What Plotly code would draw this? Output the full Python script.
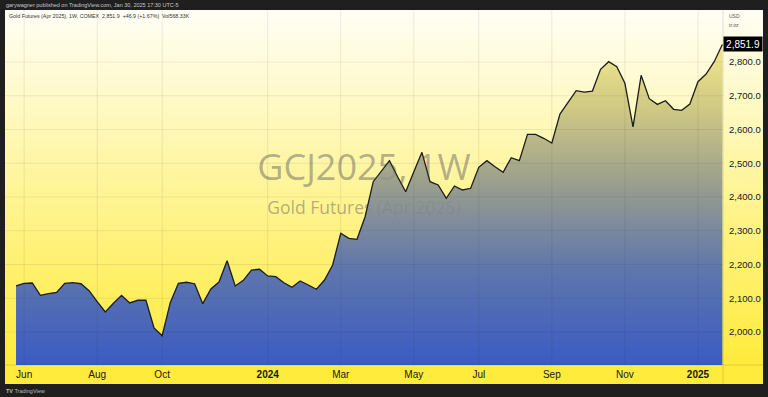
import base64, struct, zlib
import pandas as pd
import plotly.graph_objects as go

# ---------------- data ----------------
week_start = "2023-05-29"
week_end = "2025-01-27"
prices = [2136.3, 2144.3, 2145.2, 2108.7, 2113.5, 2117.6, 2144.3, 2146.0, 2143.0, 2122.4,
          2089.8, 2059.3, 2085.0, 2108.7, 2086.0, 2094.0, 2094.0, 2011.9, 1989.0, 2086.8,
          2144.3, 2147.3, 2143.0, 2083.9, 2127.4, 2148.0, 2211.3, 2136.3, 2153.0, 2183.7,
          2185.8, 2166.0, 2163.9, 2146.0, 2132.4, 2151.0, 2139.3, 2126.5, 2154.0, 2198.5,
          2292.4, 2277.6, 2274.7, 2341.6, 2445.4, 2475.0, 2507.6, 2460.0, 2415.7, 2475.0,
          2532.4, 2445.4, 2435.6, 2396.0, 2432.6, 2420.7, 2425.8, 2488.0, 2507.6, 2489.8,
          2473.0, 2516.4, 2507.6, 2585.8, 2585.8, 2573.9, 2560.0, 2645.9, 2682.4, 2715.0,
          2711.0, 2714.0, 2778.4, 2801.0, 2786.0, 2737.0, 2608.0, 2760.6, 2691.3, 2674.4,
          2685.3, 2659.8, 2656.7, 2675.5, 2741.6, 2764.4, 2801.0, 2851.9]
dates = pd.date_range(week_start, week_end, freq="W-MON")

x_tick_dates = ["2023-06-05", "2023-08-07", "2023-10-02", "2024-01-01", "2024-03-04",
                "2024-05-06", "2024-07-01", "2024-09-02", "2024-11-04", "2025-01-06"]
x_tick_text = ["Jun", "Aug", "Oct", "<b>2024</b>", "Mar", "May", "Jul", "Sep", "Nov", "<b>2025</b>"]
y_tick_vals = [2000, 2100, 2200, 2300, 2400, 2500, 2600, 2700, 2800]
y_tick_text = [f"{v:,.1f}" for v in y_tick_vals]

x_range = ["2023-05-19 12:00", "2025-01-27 14:00"]
y_range = [1902.2, 2954.1]

# ---------------- background gradient image ----------------
def gradient_png(top, bottom, h=256, w=4):
    rows = []
    for i in range(h):
        t = i / (h - 1)
        c = bytes(int(round(top[k] + (bottom[k] - top[k]) * t)) for k in range(3))
        rows.append(b"\x00" + c * w)
    raw = b"".join(rows)

    def chunk(tag, data):
        return (struct.pack(">I", len(data)) + tag + data +
                struct.pack(">I", zlib.crc32(tag + data) & 0xFFFFFFFF))
    png = b"\x89PNG\r\n\x1a\n"
    png += chunk(b"IHDR", struct.pack(">IIBBBBB", w, h, 8, 2, 0, 0, 0))
    png += chunk(b"IDAT", zlib.compress(raw, 9))
    png += chunk(b"IEND", b"")
    return "data:image/png;base64," + base64.b64encode(png).decode()

bg_src = gradient_png((255, 254, 246), (255, 235, 59))

W, H = 768, 397
ml, mr, mt, mb = 5, 45, 10, 32
pw, ph = W - ml - mr, H - mt - mb

def px(xp):
    return (xp - ml) / pw

def py(yp):
    return (H - mb - yp) / ph

fig = go.Figure()

t0, t1 = pd.Timestamp(x_range[0]), pd.Timestamp(x_range[1])
x_mid = t0 + (t1 - t0) * 0.5
wm_y1 = y_range[0] + (y_range[1] - y_range[0]) * py(171)
wm_y2 = y_range[0] + (y_range[1] - y_range[0]) * py(210)
wm_text = ["GCJ2025, 1W", "Gold Futures (Apr 2025)"]

def watermark(alpha):
    col = f"rgba(105,105,105,{alpha})"
    return go.Scatter(
        x=[x_mid, x_mid], y=[wm_y1, wm_y2], mode="text", text=wm_text,
        textposition="middle center",
        textfont=dict(family="Open Sans", size=[36, 17.5], color=[col, col]),
        hoverinfo="skip", showlegend=False)

# watermark behind the series
fig.add_trace(watermark(0.42))

# area series
fig.add_trace(go.Scatter(
    x=dates, y=prices, mode="lines",
    line=dict(color="#1c1c1c", width=1.3),
    fill="tozeroy",
    fillgradient=dict(type="vertical",
                      colorscale=[[0.0, "#3a5bc4"], [0.3, "#5f76ac"], [0.55, "#979c8f"],
                                  [0.8, "#cfc983"], [1.0, "#f1e88c"]],
                      start=y_range[0], stop=max(prices)),
    hoverinfo="skip", showlegend=False))

# faint copy over the fill (the reference fill is slightly see-through)
fig.add_trace(watermark(0.16))

shapes = []
grid_col = "rgba(40,40,40,0.09)"
for v in y_tick_vals:
    shapes.append(dict(type="line", xref="paper", yref="y", x0=0, x1=1, y0=v, y1=v,
                       line=dict(color=grid_col, width=1), layer="above"))
for d in x_tick_dates:
    shapes.append(dict(type="line", xref="x", yref="paper", x0=d, x1=d, y0=0, y1=1,
                       line=dict(color=grid_col, width=1), layer="above"))
shapes.append(dict(type="rect", xref="paper", yref="paper", x0=0, x1=px(763),
                   y0=py(384), y1=0, fillcolor="#ffeb3b", line=dict(width=0), layer="below"))
shapes.append(dict(type="line", xref="paper", yref="paper", x0=1, x1=1, y0=py(384), y1=1,
                   line=dict(color="rgba(0,0,0,0.13)", width=1), layer="above"))
shapes.append(dict(type="line", xref="paper", yref="paper", x0=0, x1=px(763), y0=0, y1=0,
                   line=dict(color="rgba(0,0,0,0.13)", width=1), layer="above"))

annotations = [
    dict(text="garywagner published on TradingView.com, Jan 30, 2025 17:30 UTC-5",
         xref="paper", yref="paper", x=px(4), y=py(5), xanchor="left", yanchor="middle",
         showarrow=False, font=dict(family="Liberation Sans", size=5.5, color="#c8c8c8")),
    dict(text="Gold Futures (Apr 2025), 1W, COMEX  2,851.9  +46.9 (+1.67%)  Vol568.33K",
         xref="paper", yref="paper", x=px(7), y=py(16), xanchor="left", yanchor="middle",
         showarrow=False, font=dict(family="Liberation Sans", size=5.3, color="#333333")),
    dict(text="USD", xref="paper", yref="paper", x=px(727), y=py(16), xanchor="left",
         yanchor="middle", showarrow=False,
         font=dict(family="Liberation Sans", size=5, color="#555555")),
    dict(text="tr.oz", xref="paper", yref="paper", x=px(727), y=py(25), xanchor="left",
         yanchor="middle", showarrow=False,
         font=dict(family="Liberation Sans", size=5, color="#555555")),
    dict(text=f"{prices[-1]:,.1f}", xref="paper", yref="y", x=1, y=prices[-1],
         xanchor="left", yanchor="middle", showarrow=False, bgcolor="#000000",
         width=36, height=12, borderpad=1,
         font=dict(family="Liberation Sans", size=10, color="#ffffff")),
    dict(text="<b>TV</b> TradingView", xref="paper", yref="paper", x=px(4), y=py(391),
         xanchor="left", yanchor="middle", showarrow=False,
         font=dict(family="Liberation Sans", size=5.5, color="#bbbbbb")),
]

fig.update_layout(
    width=W, height=H, template="none",
    margin=dict(l=ml, r=mr, t=mt, b=mb, pad=0),
    paper_bgcolor="#1f1f1f", plot_bgcolor="rgba(0,0,0,0)",
    showlegend=False, hovermode=False,
    images=[dict(source=bg_src, xref="paper", yref="paper", x=0, y=1,
                 sizex=px(763), sizey=1, sizing="stretch", layer="below",
                 xanchor="left", yanchor="top")],
    shapes=shapes, annotations=annotations,
    xaxis=dict(range=x_range, type="date", tickmode="array", tickvals=x_tick_dates,
               ticktext=x_tick_text, showgrid=False, zeroline=False, showline=False,
               ticks="", automargin=False, ticklabelstandoff=2,
               tickfont=dict(family="Liberation Sans", size=10, color="#131722")),
    yaxis=dict(range=y_range, side="right", tickmode="array", tickvals=y_tick_vals,
               ticktext=y_tick_text, showgrid=False, zeroline=False, showline=False,
               ticks="", automargin=False, ticklabelstandoff=5,
               tickfont=dict(family="Liberation Sans", size=9.5, color="#131722")),
)

fig.write_html("out.html")
